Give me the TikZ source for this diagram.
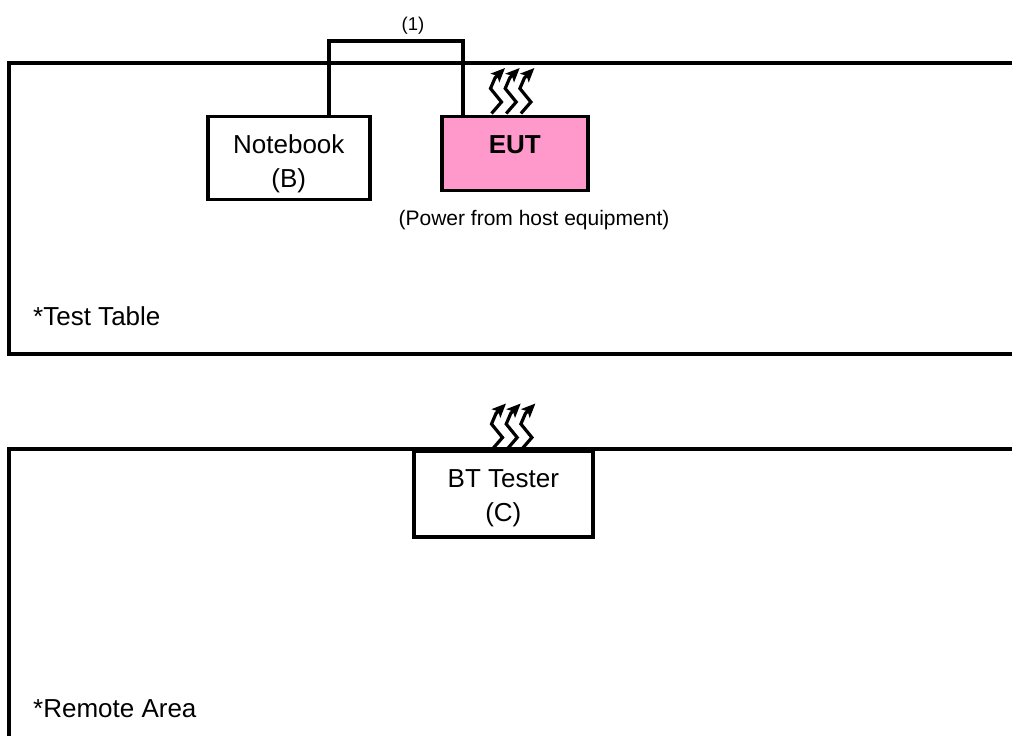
\documentclass[tikz,border=0pt]{standalone}
\usepackage{fontspec}
\setmainfont{Liberation Sans}
\usetikzlibrary{arrows.meta,calc}
\tikzset{
  frameline/.style={draw=black,line width=3.6pt,line join=miter},
  devbox/.style={draw=black,line width=3.6pt,fill=white,minimum width=#1,inner sep=0pt,align=center,font=\fontsize{26}{34}\selectfont},
  smalltxt/.style={inner sep=0pt,font=\fontsize{18.5}{21}\selectfont},
  powertxt/.style={inner sep=0pt,font=\fontsize{21}{24}\selectfont},
  areatxt/.style={inner sep=0pt,anchor=west,font=\fontsize{26}{30}\selectfont},
  cable/.style={draw=black,line width=3.4pt,line join=miter},
  wave/.style={draw=black,line width=3.2pt,line join=miter,-{Stealth[length=14pt,width=12pt,inset=3pt]}},
}
\newcommand{\waves}[2]{%
  \foreach \k in {0,1,2}{
    \draw[wave] ($(#1+\k*14.7,#2)$) -- ++(10,-11.5) -- ++(-11,-13.5) -- ++(4.5,-10.5) -- ++(10,-10);
  }%
}
\begin{document}
\begin{tikzpicture}[x=1pt,y=-1pt]
\useasboundingbox (0,0) rectangle (1012,736);
\draw[frameline] (1016,63) -- (9,63) -- (9,354) -- (1016,354);
\draw[frameline] (1016,449) -- (9,449) -- (9,740);
\node[devbox=162pt,minimum height=83pt,anchor=north west] (nb) at (206,114.5) {\rule{0pt}{31pt}Notebook\\(B)};
\node[devbox=146pt,minimum height=74pt,anchor=north west,fill={rgb,255:red,255;green,153;blue,204},font=\fontsize{26}{34}\selectfont\bfseries] (eut) at (440,114.5) {\rule[-17pt]{0pt}{1pt}EUT};
\node[devbox=179pt,minimum height=86pt,anchor=north west] (bt) at (412,449) {\rule{0pt}{27pt}BT Tester\\(C)};
\coordinate (c1) at (329,41);
\coordinate (c2) at (463,41);
\draw[cable] (c1 |- nb.north) -- (c1) -- (c2) -- (c2 |- eut.north);
\node[smalltxt] (l1) at (413,25.5) {(1)};
\node[powertxt] (pw) at (534,220.5) {(Power from host equipment)};
\node[areatxt] (t1) at (33,316) {*Test Table};
\node[areatxt] (t2) at (33,709) {*Remote Area};
\waves{491.5}{113.5}
\waves{492.5}{449}
\end{tikzpicture}
\end{document}
